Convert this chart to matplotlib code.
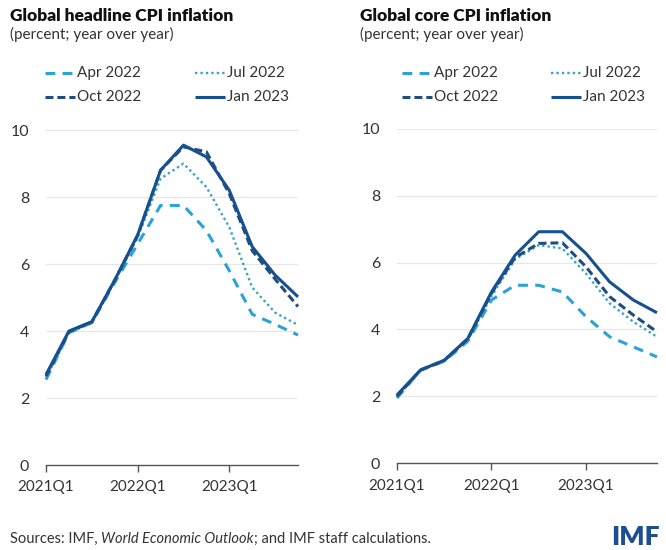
import matplotlib
matplotlib.use("Agg")
import matplotlib.pyplot as plt
from matplotlib.lines import Line2D

plt.rcParams['font.family'] = ['Lato', 'DejaVu Sans']

# Quarterly periods 2021Q1 .. 2023Q4
quarters = ["2021Q1", "2021Q2", "2021Q3", "2021Q4",
            "2022Q1", "2022Q2", "2022Q3", "2022Q4",
            "2023Q1", "2023Q2", "2023Q3", "2023Q4"]
tick_labels = ["2021Q1", "2022Q1", "2023Q1"]
vintages = ["Apr 2022", "Jul 2022", "Oct 2022", "Jan 2023"]

# Global headline CPI inflation by forecast vintage (percent, y/y)
headline_apr22 = [2.55, 3.95, 4.25, 5.45, 6.6, 7.75, 7.75, 7.0, 5.8, 4.5, 4.2, 3.88]
headline_jul22 = [2.6, 3.95, 4.25, 5.5, 6.8, 8.55, 9.0, 8.3, 7.1, 5.3, 4.55, 4.18]
headline_oct22 = [2.65, 3.98, 4.27, 5.52, 6.85, 8.8, 9.5, 9.35, 8.1, 6.4, 5.55, 4.73]
headline_jan23 = [2.7, 4.0, 4.28, 5.52, 6.87, 8.8, 9.55, 9.2, 8.2, 6.52, 5.67, 5.02]

# Global core CPI inflation by forecast vintage (percent, y/y)
core_apr22 = [1.95, 2.78, 3.05, 3.65, 4.88, 5.32, 5.32, 5.12, 4.38, 3.78, 3.48, 3.18]
core_jul22 = [1.98, 2.78, 3.06, 3.7, 5.0, 6.1, 6.52, 6.42, 5.67, 4.78, 4.23, 3.78]
core_oct22 = [2.0, 2.79, 3.07, 3.72, 5.08, 6.15, 6.57, 6.59, 5.87, 4.98, 4.43, 3.93]
core_jan23 = [2.04, 2.79, 3.08, 3.73, 5.12, 6.22, 6.92, 6.92, 6.27, 5.42, 4.88, 4.5]

styles = {
    "Apr 2022": dict(color="#2aa2d8", linestyle=(0, (3.2, 2.4)), linewidth=2.2),
    "Jul 2022": dict(color="#3aa3c4", linestyle=(0, (1.0, 1.3)), linewidth=1.7),
    "Oct 2022": dict(color="#1f4d80", linestyle=(0, (2.6, 1.3)), linewidth=2.2),
    "Jan 2023": dict(color="#17508f", linestyle="-", linewidth=2.2),
}

fig = plt.figure(figsize=(6.66, 5.5), dpi=100)

panels = [
    dict(rect=[0.0691, 0.1545, 0.3784, 0.609],
         series=[headline_apr22, headline_jul22, headline_oct22, headline_jan23],
         title="Global headline CPI inflation", tx=10 / 666,
         legend_x=45 / 666, legend_x2=195 / 666),
    dict(rect=[0.596, 0.1576, 0.3904, 0.6085],
         series=[core_apr22, core_jul22, core_oct22, core_jan23],
         title="Global core CPI inflation", tx=360 / 666,
         legend_x=402 / 666, legend_x2=551 / 666),
]

x = list(range(len(quarters)))
grey_text = "#333333"

for p in panels:
    ax = fig.add_axes(p["rect"])
    for name, vals in zip(vintages, p["series"]):
        ax.plot(x, vals, clip_on=False, solid_capstyle="butt",
                dash_capstyle="butt", **styles[name])
    ax.set_xlim(0, len(quarters) - 1)
    ax.set_ylim(0, 10)
    ax.set_yticks([0, 2, 4, 6, 8, 10])
    ax.set_xticks([quarters.index(t) for t in tick_labels])
    ax.set_xticklabels(tick_labels)
    for yv in [2, 4, 6, 8, 10]:
        ax.axhline(yv, color="#e6e6e6", linewidth=0.8, zorder=0)
    for s in ["top", "right", "left"]:
        ax.spines[s].set_visible(False)
    ax.spines["bottom"].set_color("#555555")
    ax.spines["bottom"].set_linewidth(1.0)
    ax.tick_params(axis="x", direction="out", length=5, width=1.0,
                   color="#555555", labelsize=11, labelcolor=grey_text, pad=6)
    ax.tick_params(axis="y", length=0, labelsize=11.5, labelcolor=grey_text, pad=12)

    # Titles
    fig.text(p["tx"], 1 - 16 / 550, p["title"], fontsize=12.5, fontweight="heavy",
             color="#111111", va="center", ha="left")
    fig.text(p["tx"], 1 - 34 / 550, "(percent; year over year)", fontsize=11,
             color=grey_text, va="center", ha="left")

    # Legend laid out in two rows of two entries
    positions = {
        "Apr 2022": (p["legend_x"], 1 - 73 / 550),
        "Jul 2022": (p["legend_x2"], 1 - 73 / 550),
        "Oct 2022": (p["legend_x"], 1 - 97 / 550),
        "Jan 2023": (p["legend_x2"], 1 - 97 / 550),
    }
    for name in vintages:
        lx, ly = positions[name]
        seg = 30 / 666
        fig.add_artist(Line2D([lx, lx + seg], [ly, ly], transform=fig.transFigure,
                              solid_capstyle="butt", dash_capstyle="butt",
                              **styles[name]))
        fig.text(lx + seg + 2 / 666, ly, name, fontsize=11, color=grey_text,
                 va="center", ha="left")

# Source note, with the publication title in italics
renderer = fig.canvas.get_renderer()
parts = [("Sources: IMF, ", "normal"), ("World Economic Outlook", "italic"),
         ("; and IMF staff calculations.", "normal")]
sx = 10 / 666
for txt, style in parts:
    t = fig.text(sx, 1 - 539 / 550, txt, fontsize=10.5, style=style,
                 color=grey_text, va="center", ha="left")
    bb = t.get_window_extent(renderer=renderer)
    sx += bb.width / fig.bbox.width

fig.text(660 / 666, 1 - 537 / 550, "IMF", fontsize=19, fontweight="heavy",
         color="#1b4f8f", va="center", ha="right")

fig.savefig("out.png", dpi=100)
